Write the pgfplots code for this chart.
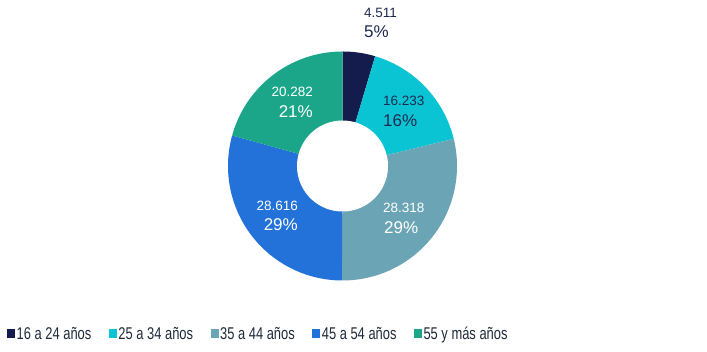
\documentclass[border=0pt]{standalone}
\usepackage{pgfplots}
\pgfplotsset{compat=1.18}
\usepackage{fontspec}
\setmainfont{Liberation Sans}
\newfontfamily\legfont[FakeStretch=0.76]{Liberation Sans}
\definecolor{cA}{HTML}{141B4D}
\definecolor{cB}{HTML}{0BC4D3}
\definecolor{cC}{HTML}{6BA5B5}
\definecolor{cD}{HTML}{2272D9}
\definecolor{cE}{HTML}{1BA68A}
\definecolor{navy}{HTML}{1D2951}
\definecolor{legtext}{HTML}{1E2A3A}
% data (thousands of people)
\def\kA{4.511}
\def\kB{16.233}
\def\kC{28.318}
\def\kD{28.616}
\def\kE{20.282}
\begin{document}
\begin{tikzpicture}
\pgfmathsetmacro\tot{\kA+\kB+\kC+\kD+\kE}
\pgfmathsetmacro\aO{90}
\pgfmathsetmacro\aA{90-360*((\kA)/\tot)}
\pgfmathsetmacro\aB{90-360*((\kA+\kB)/\tot)}
\pgfmathsetmacro\aC{90-360*((\kA+\kB+\kC)/\tot)}
\pgfmathsetmacro\aD{90-360*((\kA+\kB+\kC+\kD)/\tot)}
\pgfmathsetmacro\aE{90-360}
\def\cx{342.5}
\def\cy{186}
\def\R{114.5}
\def\r{45.5}
\begin{axis}[
  x=1pt, y=1pt,
  xmin=0, xmax=707, ymin=0, ymax=352,
  hide axis, clip=false,
  legend columns=5,
  legend style={at={(axis cs:7,18)}, anchor=west, draw=none, fill=none,
    inner sep=0pt, font=\legfont\fontsize{17}{17}\selectfont, text=legtext,
    /tikz/every even column/.append style={column sep=16pt},
    nodes={inner sep=1.5pt}},
  legend cell align=left,
  legend image code/.code={\fill[#1] (0pt,-4.5pt) rectangle (8pt,4.5pt);},
]
\path (axis cs:0,0) rectangle (axis cs:707,352);
\addplot[fill=cA, draw=none, domain=\aA:\aO, samples=30]
  ({\cx+\R*cos(x)},{\cy+\R*sin(x)}) -- (axis cs:\cx,\cy) -- cycle;
\addlegendentry{16 a 24 años}
\addplot[fill=cB, draw=none, domain=\aB:\aA, samples=60]
  ({\cx+\R*cos(x)},{\cy+\R*sin(x)}) -- (axis cs:\cx,\cy) -- cycle;
\addlegendentry{25 a 34 años}
\addplot[fill=cC, draw=none, domain=\aC:\aB, samples=80]
  ({\cx+\R*cos(x)},{\cy+\R*sin(x)}) -- (axis cs:\cx,\cy) -- cycle;
\addlegendentry{35 a 44 años}
\addplot[fill=cD, draw=none, domain=\aD:\aC, samples=80]
  ({\cx+\R*cos(x)},{\cy+\R*sin(x)}) -- (axis cs:\cx,\cy) -- cycle;
\addlegendentry{45 a 54 años}
\addplot[fill=cE, draw=none, domain=\aE:\aD, samples=60]
  ({\cx+\R*cos(x)},{\cy+\R*sin(x)}) -- (axis cs:\cx,\cy) -- cycle;
\addlegendentry{55 y más años}
\addplot[fill=white, draw=none, domain=0:360, samples=120, forget plot]
  ({\cx+\r*cos(x)},{\cy+\r*sin(x)}) -- cycle;
% labels
\tikzset{vl/.style={inner sep=0pt, font=\fontsize{13.5}{13.5}\selectfont},
         pl/.style={inner sep=0pt, font=\fontsize{17}{17}\selectfont}}
\node[vl, anchor=base west, text=navy] at (axis cs:364,334) {4.511};
\node[pl, anchor=base west, text=navy] at (axis cs:364,314) {5\%};
\node[vl, anchor=base west, text=navy] at (axis cs:383,246) {16.233};
\node[pl, anchor=base west, text=navy] at (axis cs:383,225) {16\%};
\node[vl, anchor=base west, text=white] at (axis cs:383,139) {28.318};
\node[pl, anchor=base west, text=white] at (axis cs:384,118) {29\%};
\node[vl, anchor=base east, text=white] at (axis cs:298,141) {28.616};
\node[pl, anchor=base east, text=white] at (axis cs:298,121) {29\%};
\node[vl, anchor=base east, text=white] at (axis cs:313,255) {20.282};
\node[pl, anchor=base east, text=white] at (axis cs:313,234) {21\%};
\end{axis}
\end{tikzpicture}
\end{document}
